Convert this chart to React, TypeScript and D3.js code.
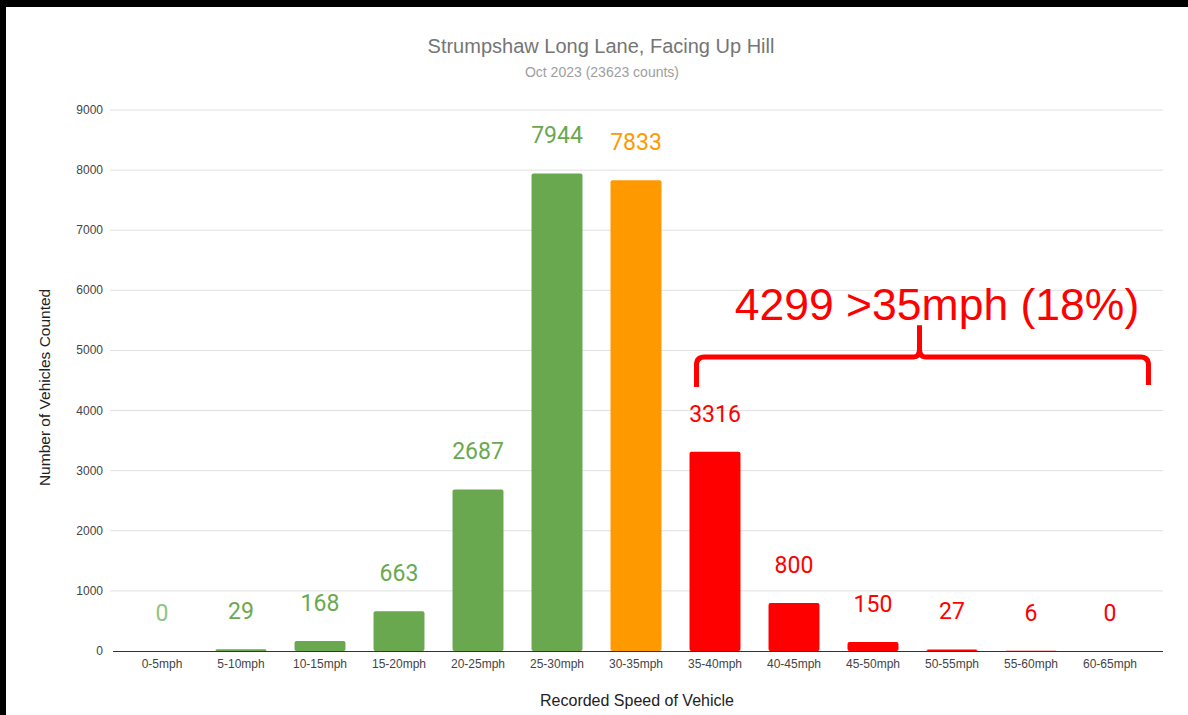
import React, { useEffect, useRef } from "react";
import * as d3 from "d3";

const WIDTH = 1188;
const HEIGHT = 715;

// speed bins and the counts
const speeds = [
  "0-5mph", "5-10mph", "10-15mph", "15-20mph", "20-25mph", "25-30mph", "30-35mph",
  "35-40mph", "40-45mph", "45-50mph", "50-55mph", "55-60mph", "60-65mph",
];
const counts = [0, 29, 168, 663, 2687, 7944, 7833, 3316, 800, 150, 27, 6, 0];
const barColors = [
  "#6aa84f", "#6aa84f", "#6aa84f", "#6aa84f", "#6aa84f", "#6aa84f", "#ff9900",
  "#ff0000", "#ff0000", "#ff0000", "#ff0000", "#ff0000", "#ff0000",
];
const labelColors = [
  "#93c47d", "#6aa84f", "#6aa84f", "#6aa84f", "#6aa84f", "#6aa84f", "#ff9900",
  "#ff0000", "#ff0000", "#ff0000", "#ff0000", "#ff0000", "#ff0000",
];
const yTicks = [0, 1000, 2000, 3000, 4000, 5000, 6000, 7000, 8000, 9000];
const annotation = "4299 >35mph (18%)";

const PLOT = { left: 122.5, right: 1149.5, top: 110, bottom: 651, gridLeft: 110, gridRight: 1163 };

export default function App() {
  const svgRef = useRef(null);

  useEffect(() => {
    const svg = d3.select(svgRef.current);
    svg.selectAll("*").remove();

    const x = d3.scaleBand<string>().domain(speeds).range([PLOT.left, PLOT.right])
      .paddingInner(0.355).paddingOuter(0.1775);
    const y = d3.scaleLinear().domain([0, 9000]).range([PLOT.bottom, PLOT.top]);

    svg.append("rect").attr("width", WIDTH).attr("height", HEIGHT).attr("fill", "#fff");

    // black frame on top and left
    svg.append("rect").attr("x", 0).attr("y", 0).attr("width", WIDTH).attr("height", 7).attr("fill", "#000");
    svg.append("rect").attr("x", 0).attr("y", 0).attr("width", 6).attr("height", HEIGHT).attr("fill", "#000");

    // title
    svg.append("text").attr("x", 601).attr("y", 53).attr("text-anchor", "middle")
      .attr("font-family", "Liberation Sans, Arial, sans-serif").attr("font-size", 20)
      .attr("fill", "#757575").text("Strumpshaw Long Lane, Facing Up Hill");
    svg.append("text").attr("x", 602).attr("y", 77).attr("text-anchor", "middle")
      .attr("font-family", "Liberation Sans, Arial, sans-serif").attr("font-size", 14)
      .attr("fill", "#9e9e9e").text("Oct 2023 (23623 counts)");

    // gridlines
    const grid = svg.append("g");
    grid.selectAll("line").data(yTicks.filter(t => t > 0)).enter().append("line")
      .attr("x1", PLOT.gridLeft).attr("x2", PLOT.gridRight)
      .attr("y1", d => y(d)).attr("y2", d => y(d))
      .attr("stroke", "#e0e0e0").attr("stroke-width", 1);

    // y tick labels
    svg.append("g").selectAll("text").data(yTicks).enter().append("text")
      .attr("x", 103).attr("y", d => y(d) + 4).attr("text-anchor", "end")
      .attr("font-family", "Liberation Sans, Arial, sans-serif").attr("font-size", 12)
      .attr("fill", "#444").text(d => d);

    // bars
    svg.append("g").selectAll("rect").data(counts).enter().append("rect")
      .attr("x", (d, i) => x(speeds[i]) || 0)
      .attr("y", d => y(d))
      .attr("width", x.bandwidth())
      .attr("height", d => y(0) - y(d))
      .attr("rx", 2)
      .attr("fill", (d, i) => barColors[i]);

    // baseline
    svg.append("line").attr("x1", 113).attr("x2", PLOT.gridRight)
      .attr("y1", y(0) + 0.5).attr("y2", y(0) + 0.5).attr("stroke", "#333").attr("stroke-width", 1);

    // value labels
    svg.append("g").selectAll("text").data(counts).enter().append("text")
      .attr("x", (d, i) => (x(speeds[i]) || 0) + x.bandwidth() / 2)
      .attr("y", d => y(d) - 30)
      .attr("text-anchor", "middle")
      .attr("font-family", "Roboto, sans-serif").attr("font-size", 23)
      .attr("fill", (d, i) => labelColors[i]).text(d => d);

    // x tick labels
    svg.append("g").selectAll("text").data(speeds).enter().append("text")
      .attr("x", d => (x(d) || 0) + x.bandwidth() / 2)
      .attr("y", y(0) + 17).attr("text-anchor", "middle")
      .attr("font-family", "Liberation Sans, Arial, sans-serif").attr("font-size", 12)
      .attr("fill", "#444").text(d => d);

    // axis titles
    svg.append("text").attr("x", 637).attr("y", 706).attr("text-anchor", "middle")
      .attr("font-family", "Liberation Sans, Arial, sans-serif").attr("font-size", 16)
      .attr("fill", "#222").text("Recorded Speed of Vehicle");
    svg.append("text").attr("transform", `translate(50, ${y(4385)}) rotate(-90)`)
      .attr("text-anchor", "middle")
      .attr("font-family", "Liberation Sans, Arial, sans-serif").attr("font-size", 15.5)
      .attr("fill", "#222").text("Number of Vehicles Counted");

    // brace annotation over the >35mph bars
    const bl = (x("35-40mph") || 0) + 7;
    const br = (x("60-65mph") || 0) + x.bandwidth() + 13;
    const mid = (bl + br) / 2 - 3;
    const yh = y(4890);
    const yb = y(4390);
    const yp = y(5420);
    const r = 8;
    const path = d3.path();
    path.moveTo(bl, yb);
    path.lineTo(bl, yh + r);
    path.quadraticCurveTo(bl, yh, bl + r, yh);
    path.lineTo(mid - 6, yh);
    path.quadraticCurveTo(mid, yh, mid, yh - 8);
    path.lineTo(mid, yp);
    path.moveTo(mid, yh - 8);
    path.quadraticCurveTo(mid, yh, mid + 6, yh);
    path.lineTo(br - r, yh);
    path.quadraticCurveTo(br, yh, br, yh + r);
    path.lineTo(br, yb - 2);
    svg.append("path").attr("d", path.toString()).attr("fill", "none")
      .attr("stroke", "#ff0000").attr("stroke-width", 5).attr("stroke-linecap", "butt");

    svg.append("text").attr("x", 937).attr("y", 320).attr("text-anchor", "middle")
      .attr("font-family", "Liberation Sans, Arial, sans-serif").attr("font-size", 44.5)
      .attr("fill", "#ff0000").text(annotation);
  }, []);

  return (
    <svg ref={svgRef} width={WIDTH} height={HEIGHT}
      style={{ position: "absolute", left: 0, top: 0, display: "block" }} />
  );
}
